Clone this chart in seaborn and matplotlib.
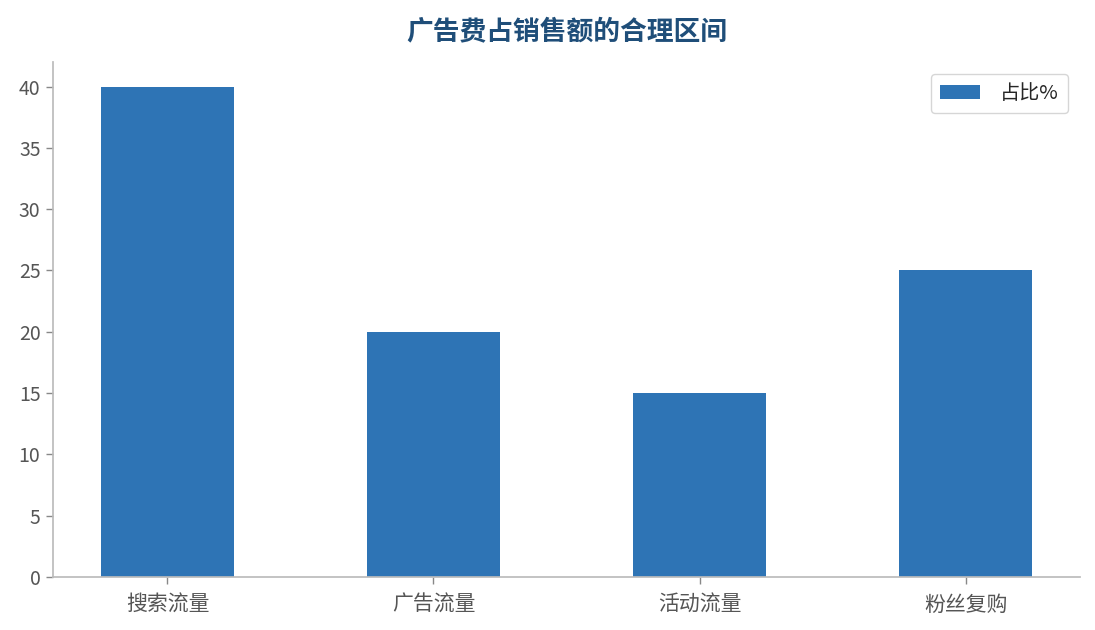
import matplotlib
matplotlib.use("Agg")
import matplotlib.pyplot as plt
import pandas as pd
import seaborn as sns

categories = ["搜索流量", "广告流量", "活动流量", "粉丝复购"]
shares = [40, 20, 15, 25]

sns.set_theme(style="white")
plt.rcParams["font.family"] = ["Noto Sans CJK SC", "DejaVu Sans"]

df = pd.DataFrame({"渠道": categories, "占比%": shares})

fig = plt.figure(figsize=(10.95, 6.3), dpi=100)
ax = fig.add_axes([53 / 1095, 1 - 577 / 630, (1080 - 53) / 1095, (577 - 62) / 630])

sns.barplot(data=df, x="渠道", y="占比%", ax=ax, color="#2E74B5",
            width=0.5, saturation=1, linewidth=0, label="占比%")

ax.set_xlim(-0.43, 3.43)
ax.set_ylim(0, 42)
ax.set_yticks(range(0, 41, 5))
ax.set_xlabel("")
ax.set_ylabel("")
ax.set_title("广告费占销售额的合理区间", fontsize=19.3, fontweight="bold",
             color="#1F4E79", pad=16)

for side in ["top", "right"]:
    ax.spines[side].set_visible(False)
for side in ["left", "bottom"]:
    ax.spines[side].set_color("#BBBBBB")
ax.tick_params(axis="both", colors="#555555", length=5, width=1,
               bottom=True, left=True)
ax.tick_params(axis="both", color="#888888")
ax.tick_params(axis="x", labelsize=15, pad=7)
ax.tick_params(axis="y", labelsize=14, pad=4)

leg = ax.legend(loc="upper right", fontsize=14.5, frameon=True, borderpad=0.45,
                handlelength=2.0, handleheight=0.7, handletextpad=1.0,
                borderaxespad=0.6)
leg.get_frame().set_edgecolor("#CCCCCC")

fig.savefig("out.png", dpi=100)
